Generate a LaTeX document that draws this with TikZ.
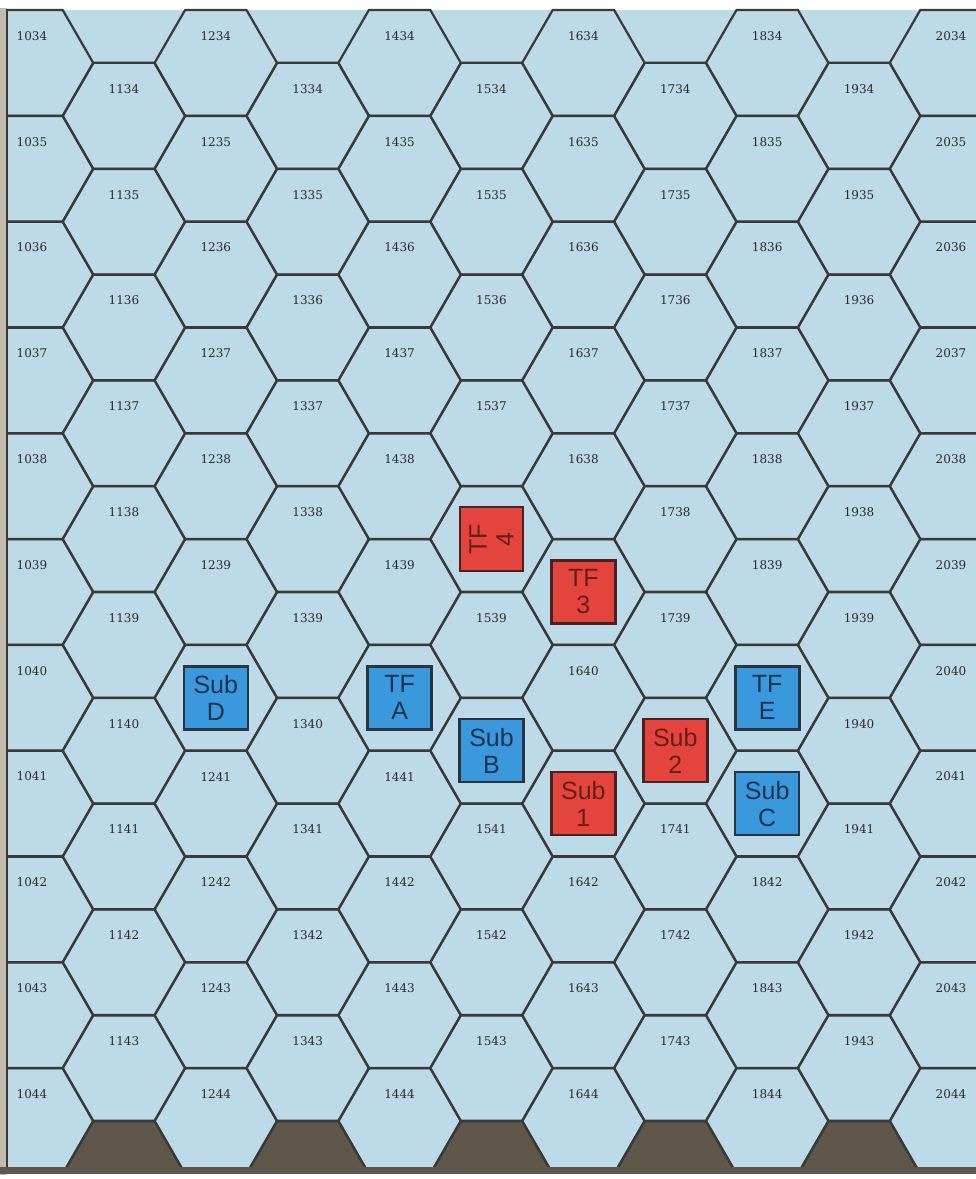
\documentclass[tikz,border=0pt]{standalone}
\usepackage{fontspec}
\setsansfont{Liberation Sans}
\newfontfamily\numfont{DejaVu Serif}
\usepackage{xcolor}
\usepackage{tikz}

\definecolor{mare}{RGB}{189,218,233}
\definecolor{lato}{RGB}{58,57,54}
\definecolor{terra}{RGB}{94,87,74}
\definecolor{cornice}{RGB}{196,188,172}
\definecolor{numero}{RGB}{42,42,42}
\definecolor{rosso}{RGB}{228,68,62}
\definecolor{rossobordo}{RGB}{72,34,30}
\definecolor{rossotesto}{RGB}{104,30,24}
\definecolor{azzurro}{RGB}{58,152,220}
\definecolor{blubordo}{RGB}{40,52,64}
\definecolor{blutesto}{RGB}{28,52,80}

% esagoni senza numero (pedine e terra)
\newcommand{\occupa}[1]{\expandafter\def\csname occ#1\endcsname{}}
\occupa{1538}\occupa{1639}\occupa{1641}\occupa{1740}\occupa{1240}
\occupa{1440}\occupa{1540}\occupa{1840}\occupa{1841}
\occupa{1144}\occupa{1344}\occupa{1544}\occupa{1744}\occupa{1944}

\begin{document}
\begin{tikzpicture}[
      x=1pt, y=-1pt,
      hexlato/.style={draw=lato, line width=2.2pt, line join=round},
      num/.style={font=\numfont\fontsize{12}{12}\selectfont, text=numero, inner sep=0pt},
      pedina/.style={minimum width=64pt, minimum height=63pt, inner sep=0pt,
        align=center, line width=2.4pt, font=\sffamily\fontsize{25}{27}\selectfont},
      rossa/.style={pedina, fill=rosso, draw=rossobordo, text=rossotesto},
      blu/.style={pedina, fill=azzurro, draw=blubordo, text=blutesto},
      forte/.style={line width=3.4pt}
    ]
    \useasboundingbox (0,0) rectangle (976,1179);
    \fill[white] (0,0) rectangle (976,1179);

    % Cornice e mare
    \fill[cornice] (0,8) rectangle (7,1175);
    \fill[mare] (7,10) rectangle (976,1167);

    % Centri degli esagoni
    \foreach \c in {10,...,20}
      \foreach \r in {34,...,44} {
        \pgfmathsetmacro{\hx}{32+91.9*(\c-10)}
        \pgfmathsetmacro{\hy}{63+105.8*(\r-34)+52.9*isodd(\c)}
        \coordinate (c\c\r) at (\hx,\hy);
      }

    \begin{scope}
      \clip (7,8.8) rectangle (976,1167);
      % Terra in fondo
      \foreach \c in {11,13,...,19}
        \fill[terra] (c\c44) ++(61.3,0) -- ++(120:61.3) -- ++(180:61.3)
          -- ++(240:61.3) -- ++(300:61.3) -- ++(0:61.3) -- cycle;
      % Griglia
      \foreach \c in {10,...,20}
        \foreach \r in {34,...,44}
          \draw[hexlato] (c\c\r) ++(61.3,0) -- ++(120:61.3) -- ++(180:61.3)
            -- ++(240:61.3) -- ++(300:61.3) -- ++(0:61.3) -- cycle;
    \end{scope}

    % Bordo in basso e a sinistra
    \fill[terra] (0,1167) rectangle (976,1174);
    \draw[lato, line width=1.4pt] (7,9) -- (7,1167);

    % Numeri
    \foreach \c in {10,...,20}
      \foreach \r in {34,...,44} {
        \ifcsname occ\c\r\endcsname\else
          \node[num, yshift=27pt] (n\c\r) at (c\c\r) {\c\r};
        \fi
      }

    % Pedine
    \node[rossa, rotate=90] (tf4) at (c1538) {TF\\4};
    \node[rossa] (tf3) at (c1639) {TF\\3};
    \node[rossa] (sub2) at (c1740) {Sub\\2};
    \node[rossa] (sub1) at (c1641) {Sub\\1};
    \node[blu] (subD) at (c1240) {Sub\\D};
    \node[blu, forte] (tfA) at (c1440) {TF\\A};
    \node[blu] (subB) at (c1540) {Sub\\B};
    \node[blu, forte] (tfE) at (c1840) {TF\\E};
    \node[blu] (subC) at (c1841) {Sub\\C};
  \end{tikzpicture}
\end{document}
